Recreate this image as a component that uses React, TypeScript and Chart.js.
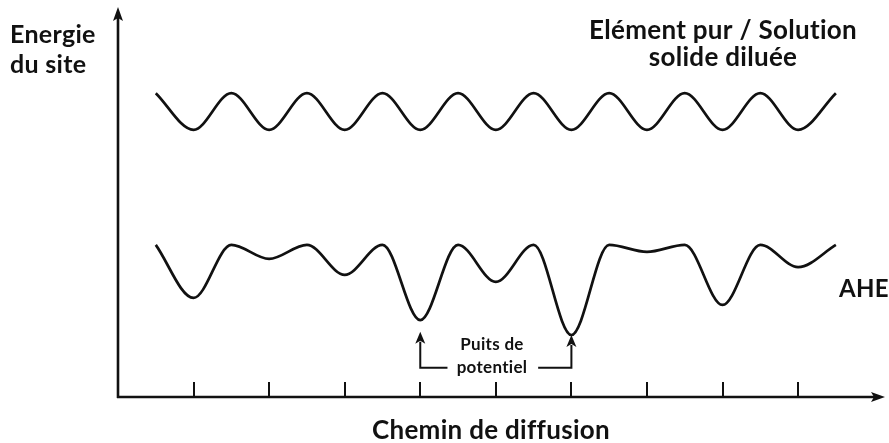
import React, { useEffect, useRef } from "react";
import { Chart, registerables } from "chart.js";

Chart.register(...registerables);

// Positions along the diffusion path (site units; integer = lattice site / tick)
const sitePositions = [0.5, 1, 1.5, 2, 2.5, 3, 3.5, 4, 4.5, 5, 5.5, 6, 6.5, 7, 7.5, 8, 8.5, 9, 9.5];
// Site energy, pure element / dilute solid solution (regular landscape)
const pureSolutionEnergy = [7.79, 6.85, 7.79, 6.85, 7.79, 6.85, 7.79, 6.85, 7.79, 6.85, 7.79, 6.85, 7.79, 6.85, 7.79, 6.85, 7.79, 6.85, 7.79];
// Site energy, high-entropy alloy (rough landscape)
const aheEnergy = [3.9, 2.54, 3.9, 3.54, 3.9, 3.13, 3.9, 1.97, 3.9, 2.95, 3.9, 1.59, 3.9, 3.72, 3.9, 2.36, 3.9, 3.33, 3.9];
// Tick marks on the diffusion path
const tickPositions = [1, 2, 3, 4, 5, 6, 7, 8, 9];
// Potential wells pointed at by the annotation arrows
const wellSites = [4, 6];
const wellArrowTips = [1.67, 1.59];
const wellArrowBase = 0.75;
const wellArrowHorizontalEnds = [4.36, 5.56];

const xAxisLabel = "Chemin de diffusion";
const yAxisLabel = ["Energie", "du site"];
const topSeriesLabel = ["Elément pur / Solution", "solide diluée"];
const bottomSeriesLabel = "AHE";
const wellLabel = ["Puits de", "potentiel"];

const INK = "#111111";
const FONT = "Lato, 'Open Sans', sans-serif";

function arrowHead(ctx: CanvasRenderingContext2D, x: number, y: number, dir: "up" | "right", len = 14, half = 5) {
  ctx.beginPath();
  if (dir === "up") {
    ctx.moveTo(x, y);
    ctx.lineTo(x - half, y + len);
    ctx.lineTo(x, y + len - 3);
    ctx.lineTo(x + half, y + len);
  } else {
    ctx.moveTo(x, y);
    ctx.lineTo(x - len, y - half);
    ctx.lineTo(x - len + 3, y);
    ctx.lineTo(x - len, y + half);
  }
  ctx.closePath();
  ctx.fill();
}

const decorPlugin = {
  id: "decor",
  beforeDatasetsDraw(chart: any) {
    const { ctx, chartArea, scales } = chart;
    const xs = scales.x;
    const ys = scales.y;
    const x0 = xs.getPixelForValue(0);
    const y0 = ys.getPixelForValue(0);
    ctx.save();
    ctx.strokeStyle = INK;
    ctx.fillStyle = INK;
    ctx.lineCap = "butt";
    // y axis
    ctx.lineWidth = 2.6;
    ctx.beginPath();
    ctx.moveTo(x0, y0 + 1);
    ctx.lineTo(x0, chartArea.top + 8);
    ctx.stroke();
    arrowHead(ctx, x0, chartArea.top, "up");
    // x axis
    ctx.beginPath();
    ctx.moveTo(x0 - 1, y0);
    ctx.lineTo(chartArea.right - 8, y0);
    ctx.stroke();
    arrowHead(ctx, chartArea.right, y0, "right");
    // tick marks (pointing up into the plot)
    ctx.lineWidth = 2;
    for (const t of tickPositions) {
      const px = Math.round(xs.getPixelForValue(t));
      ctx.beginPath();
      ctx.moveTo(px, y0);
      ctx.lineTo(px, y0 - 15);
      ctx.stroke();
    }
    ctx.restore();
  },
  afterDatasetsDraw(chart: any) {
    const { ctx, scales } = chart;
    const xs = scales.x;
    const ys = scales.y;
    ctx.save();
    ctx.strokeStyle = INK;
    ctx.fillStyle = INK;
    // well arrows
    ctx.lineWidth = 2;
    wellSites.forEach((s, i) => {
      const px = xs.getPixelForValue(s);
      const tip = ys.getPixelForValue(wellArrowTips[i]);
      const base = ys.getPixelForValue(wellArrowBase);
      const hx = xs.getPixelForValue(wellArrowHorizontalEnds[i]);
      ctx.beginPath();
      ctx.moveTo(hx, base);
      ctx.lineTo(px, base);
      ctx.lineTo(px, tip + 10);
      ctx.stroke();
      arrowHead(ctx, px, tip, "up", 12, 5);
    });

    (ctx as any).textRendering = "optimizeSpeed";
    (ctx as any).letterSpacing = "0.3px";
    ctx.textBaseline = "alphabetic";
    // y label
    ctx.font = `bold 25px ${FONT}`;
    ctx.textAlign = "left";
    ctx.fillText(yAxisLabel[0], 10, 43);
    ctx.fillText(yAxisLabel[1], 10, 73);
    // top series label
    ctx.font = `bold 26px ${FONT}`;
    ctx.textAlign = "center";
    ctx.fillText(topSeriesLabel[0], 723, 39);
    ctx.fillText(topSeriesLabel[1], 723, 66);
    // AHE
    ctx.font = `bold 24px ${FONT}`;
    ctx.textAlign = "left";
    ctx.fillText(bottomSeriesLabel, 839, 297);
    // x label
    ctx.font = `bold 26px ${FONT}`;
    ctx.textAlign = "center";
    ctx.fillText(xAxisLabel, 491, 439);
    // well label
    ctx.font = `bold 17px ${FONT}`;
    ctx.fillText(wellLabel[0], 492, 350);
    ctx.fillText(wellLabel[1], 492, 373);
    ctx.restore();
  },
};

export default function App() {
  const canvasRef = useRef<HTMLCanvasElement | null>(null);

  useEffect(() => {
    document.body.style.margin = "0";
    const canvas = canvasRef.current;
    if (!canvas) return;
    const chart = new Chart(canvas, {
      type: "line",
      data: {
        datasets: [
          {
            label: topSeriesLabel.join(" "),
            data: sitePositions.map((x, i) => ({ x, y: pureSolutionEnergy[i] })),
            borderColor: INK,
            borderWidth: 2.7,
            cubicInterpolationMode: "monotone",
            pointRadius: 0,
            fill: false,
          },
          {
            label: bottomSeriesLabel,
            data: sitePositions.map((x, i) => ({ x, y: aheEnergy[i] })),
            borderColor: INK,
            borderWidth: 2.7,
            cubicInterpolationMode: "monotone",
            pointRadius: 0,
            fill: false,
          },
        ],
      },
      options: {
        responsive: false,
        animation: false,
        devicePixelRatio: 1,
        layout: { padding: { left: 118, right: 4, top: 7, bottom: 46 } },
        plugins: { legend: { display: false }, tooltip: { enabled: false } },
        scales: {
          x: { type: "linear", min: 0, max: 10.15, display: false },
          y: { type: "linear", min: 0, max: 10, display: false },
        },
      },
      plugins: [decorPlugin],
    } as any);
    return () => chart.destroy();
  }, []);

  return (
    <div style={{ width: 889, height: 443, background: "#fff" }}>
      <canvas ref={canvasRef} width={889} height={443} style={{ display: "block" }} />
    </div>
  );
}
